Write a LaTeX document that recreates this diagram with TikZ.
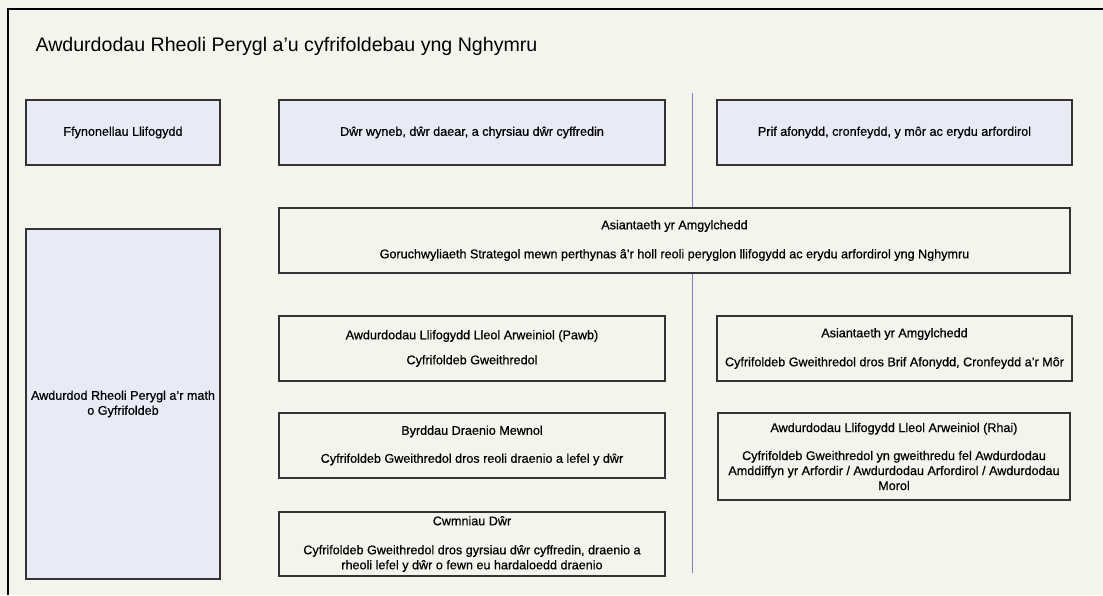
\documentclass[tikz,border=0pt]{standalone}
\usepackage{fontspec}
\setmainfont{Liberation Sans}
\newfontfamily\cardfont{Liberation Sans}[FakeBold=0.6]
\definecolor{paper}{HTML}{F4F4EC}
\definecolor{boxblue}{HTML}{E8EBF5}
\definecolor{divider}{HTML}{7C7CD4}
\begin{document}
\begin{tikzpicture}[x=1pt,y=-1pt,
  card/.style={shape=rectangle,draw=black!80,line width=1.1pt,inner sep=0pt,align=center,
    font=\cardfont\fontsize{12.6}{15}\selectfont,fill=paper},
  source/.style={card,fill=boxblue,minimum height=65pt}]
\fill[paper] (0,0) rectangle (1103,595);
\useasboundingbox (0,0) rectangle (1103,595);
\draw[line width=2pt] (8,595) -- (8,9) -- (1103,9);
\node(title) at (32,46)[anchor=west,font=\fontsize{19.6}{22}\selectfont] {Awdurdodau Rheoli Perygl a’u cyfrifoldebau yng Nghymru};

\coordinate(top) at (692,93);
\coordinate(bottom) at (692,573);
\draw[divider,line width=0.8pt] (top) -- (bottom);

\node(src) at (123,132.5)[source,minimum width=194pt] {Ffynonellau Llifogydd};
\node(water) at (472,132.5)[source,minimum width=386pt] {Dŵr wyneb, dŵr daear, a chyrsiau dŵr cyffredin};
\node(rivers) at (894.5,132.5)[source,minimum width=355pt] {Prif afonydd, cronfeydd, y môr ac erydu arfordirol};
\node(rma) at (123,404)[source,minimum width=194pt,minimum height=350pt] {Awdurdod Rheoli Perygl a’r math\\o Gyfrifoldeb};

\node(ea) at (674.5,240.5)[card,minimum width=791pt,minimum height=65pt]
  {Asiantaeth yr Amgylchedd\\[14pt]Goruchwyliaeth Strategol mewn perthynas â’r holl reoli peryglon llifogydd ac erydu arfordirol yng Nghymru};
\node(llfa) at (472,348.5)[card,minimum width=386pt,minimum height=65pt]
  {Awdurdodau Llifogydd Lleol Arweiniol (Pawb)\\[10pt]Cyfrifoldeb Gweithredol};
\node(idb) at (472,445.5)[card,minimum width=386pt,minimum height=65pt]
  {Byrddau Draenio Mewnol\\[13pt]Cyfrifoldeb Gweithredol dros reoli draenio a lefel y dŵr};
\node(wc) at (472,544)[card,minimum width=386pt,minimum height=64pt]
  {Cwmniau Dŵr\\[14pt]Cyfrifoldeb Gweithredol dros gyrsiau dŵr cyffredin, draenio a\\rheoli lefel y dŵr o fewn eu hardaloedd draenio};
\node(eaop) at (894.5,348.5)[card,minimum width=355pt,minimum height=65pt]
  {Asiantaeth yr Amgylchedd\\[14pt]Cyfrifoldeb Gweithredol dros Brif Afonydd, Cronfeydd a’r Môr};
\node(rhai) at (894,456.5)[card,minimum width=352pt,minimum height=87pt]
  {Awdurdodau Llifogydd Lleol Arweiniol (Rhai)\\[13pt]Cyfrifoldeb Gweithredol yn gweithredu fel Awdurdodau\\Amddiffyn yr Arfordir / Awdurdodau Arfordirol / Awdurdodau\\Morol};

\end{tikzpicture}
\end{document}
